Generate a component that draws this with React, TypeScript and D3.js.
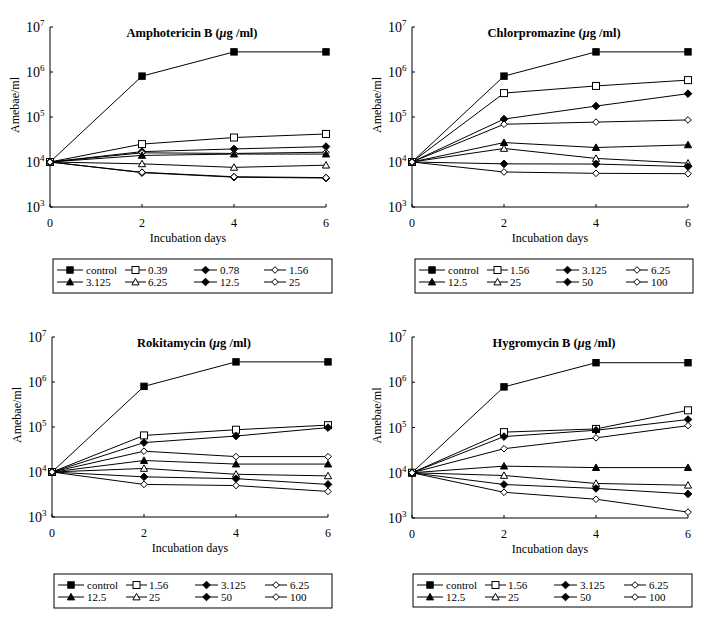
import React from "react";
import * as d3 from "d3";

const days = [0, 2, 4, 6];
const yTickExps = [3, 4, 5, 6, 7];

const ampTitle = "Amphotericin B";
const ampLabels = ["control", "0.39", "0.78", "1.56", "3.125", "6.25", "12.5", "25"];
const ampValues = [
  [1e4, 8.1e5, 2.8e6, 2.8e6],
  [1e4, 2.5e4, 3.5e4, 4.2e4],
  [1e4, 1.7e4, 1.95e4, 2.2e4],
  [1e4, 1.6e4, 1.55e4, 1.65e4],
  [1e4, 1.4e4, 1.5e4, 1.5e4],
  [1e4, 9.1e3, 7.6e3, 8.5e3],
  [1e4, 5.8e3, 4.6e3, 4.4e3],
  [1e4, 5.9e3, 4.7e3, 4.5e3],
];

const chlTitle = "Chlorpromazine";
const chlLabels = ["control", "1.56", "3.125", "6.25", "12.5", "25", "50", "100"];
const chlValues = [
  [1e4, 8.1e5, 2.8e6, 2.8e6],
  [1e4, 3.4e5, 4.9e5, 6.6e5],
  [1e4, 9.0e4, 1.75e5, 3.3e5],
  [1e4, 6.9e4, 7.7e4, 8.6e4],
  [1e4, 2.7e4, 2.1e4, 2.4e4],
  [1e4, 2.0e4, 1.2e4, 9.4e3],
  [1e4, 9.1e3, 9.0e3, 7.9e3],
  [1e4, 6.0e3, 5.6e3, 5.5e3],
];

const rokTitle = "Rokitamycin";
const rokLabels = ["control", "1.56", "3.125", "6.25", "12.5", "25", "50", "100"];
const rokValues = [
  [1e4, 8.0e5, 2.8e6, 2.8e6],
  [1e4, 6.5e4, 8.7e4, 1.1e5],
  [1e4, 4.5e4, 6.3e4, 9.7e4],
  [1e4, 2.9e4, 2.2e4, 2.2e4],
  [1e4, 1.8e4, 1.5e4, 1.5e4],
  [1e4, 1.2e4, 8.9e3, 8.2e3],
  [1e4, 7.8e3, 7.1e3, 5.3e3],
  [1e4, 5.3e3, 5.0e3, 3.7e3],
];

const hygTitle = "Hygromycin B";
const hygLabels = ["control", "1.56", "3.125", "6.25", "12.5", "25", "50", "100"];
const hygValues = [
  [1e4, 7.9e5, 2.7e6, 2.7e6],
  [1e4, 7.9e4, 9.3e4, 2.4e5],
  [1e4, 6.3e4, 8.7e4, 1.5e5],
  [1e4, 3.4e4, 5.9e4, 1.1e5],
  [1e4, 1.4e4, 1.3e4, 1.3e4],
  [1e4, 8.7e3, 5.8e3, 5.3e3],
  [1e4, 5.5e3, 4.5e3, 3.4e3],
  [1e4, 3.7e3, 2.6e3, 1.35e3],
];

const markerTypes = ["sqF", "sqO", "diaF", "diaO", "triF", "triO", "diaF", "diaO"];

const FONT = "Liberation Serif, Times New Roman, serif";

function Marker({ type, x, y }: { type: string; x: number; y: number }) {
  const filled = type.endsWith("F");
  const fill = filled ? "#000" : "#fff";
  if (type.startsWith("sq")) {
    const s = filled ? 3.2 : 3.5;
    return <rect x={x - s} y={y - s} width={2 * s} height={2 * s} fill={fill} stroke="#000" strokeWidth={1} />;
  }
  if (type.startsWith("dia")) {
    const s = filled ? 3.8 : 3.3;
    return (
      <path
        d={`M${x},${y - s}L${x + s},${y}L${x},${y + s}L${x - s},${y}Z`}
        fill={fill}
        stroke="#000"
        strokeWidth={1}
      />
    );
  }
  const s = 3.6;
  return (
    <path
      d={`M${x},${y - s}L${x + s},${y + s * 0.8}L${x - s},${y + s * 0.8}Z`}
      fill={fill}
      stroke="#000"
      strokeWidth={1}
    />
  );
}

type PanelProps = {
  title: string;
  labels: string[];
  values: number[][];
  left: number;
  right: number;
  top: number;
  bottom: number;
  legend: { x: number; y: number; w: number; h: number };
};

const legendColStart = [4, 72, 141, 211];
const legendColEnd = [30, 93, 164, 233];
const legendLabelX = [33, 95, 167, 236];

function Panel({ title, labels, values, left, right, top, bottom, legend }: PanelProps) {
  const x = d3.scaleLinear().domain([0, 6]).range([left, right]);
  const y = d3.scaleLog().domain([1e3, 1e7]).range([bottom, top]);
  const line = d3
    .line<number>()
    .x((_, i) => x(days[i]))
    .y((d) => y(d));
  const midY = (top + bottom) / 2;
  return (
    <g>
      <line x1={left} y1={top} x2={left} y2={bottom} stroke="#000" strokeWidth={1} />
      <line x1={left} y1={bottom} x2={right} y2={bottom} stroke="#000" strokeWidth={1} />
      {yTickExps.map((e) => {
        const ty = y(Math.pow(10, e));
        return (
          <g key={e}>
            <line x1={left} y1={ty} x2={left + 3} y2={ty} stroke="#000" />
            <text x={left - 24} y={ty + 5} fontSize={14} fontFamily={FONT} fill="#000">
              10
              <tspan dy={-6} fontSize={9}>
                {e}
              </tspan>
            </text>
          </g>
        );
      })}
      {days.map((d) => (
        <g key={d}>
          <line x1={x(d)} y1={bottom} x2={x(d)} y2={bottom - 3} stroke="#000" />
          <text x={x(d)} y={bottom + 20} fontSize={12} fontFamily={FONT} textAnchor="middle" fill="#000">
            {d}
          </text>
        </g>
      ))}
      <text
        x={(left + right) / 2}
        y={bottom + 35}
        fontSize={12}
        fontFamily={FONT}
        textAnchor="middle"
        fill="#000"
      >
        Incubation days
      </text>
      <text
        transform={`translate(${left - 31},${midY - 12}) rotate(-90)`}
        fontSize={12}
        fontFamily={FONT}
        textAnchor="middle"
        fill="#000"
      >
        Amebae/ml
      </text>
      <text
        x={(left + right) / 2 + 4}
        y={top + 10}
        fontSize={12.5}
        fontFamily={FONT}
        fontWeight="bold"
        textAnchor="middle"
        fill="#000"
      >
        {title} (<tspan fontStyle="italic">μ</tspan>g /ml)
      </text>
      {values.map((s, i) => (
        <path key={"l" + i} d={line(s) || ""} fill="none" stroke="#000" strokeWidth={1} />
      ))}
      {values.map((s, i) =>
        s.map((v, j) => <Marker key={"m" + i + "-" + j} type={markerTypes[i]} x={x(days[j])} y={y(v)} />)
      )}
      <rect x={legend.x} y={legend.y} width={legend.w} height={legend.h} fill="#fff" stroke="#000" strokeWidth={1} />
      {labels.map((lab, i) => {
        const col = i % 4;
        const row = Math.floor(i / 4);
        const ly = legend.y + 11 + row * 12;
        const x0 = legend.x + legendColStart[col];
        const x1 = legend.x + legendColEnd[col];
        return (
          <g key={"lg" + i}>
            <line x1={x0} y1={ly} x2={x1} y2={ly} stroke="#000" />
            <Marker type={markerTypes[i]} x={(x0 + x1) / 2} y={ly} />
            <text x={legend.x + legendLabelX[col]} y={ly + 4} fontSize={11} fontFamily={FONT} fill="#000">
              {lab}
            </text>
          </g>
        );
      })}
    </g>
  );
}

export default function App() {
  return (
    <div style={{ position: "absolute", left: 0, top: 0 }}>
      <svg width={711} height={619} style={{ display: "block", background: "#fff" }}>
        <rect x={0} y={0} width={711} height={619} fill="#fff" />
        <Panel
          title={ampTitle}
          labels={ampLabels}
          values={ampValues}
          left={50}
          right={326}
          top={27}
          bottom={207}
          legend={{ x: 53, y: 259, w: 279, h: 34 }}
        />
        <Panel
          title={chlTitle}
          labels={chlLabels}
          values={chlValues}
          left={412}
          right={688}
          top={27}
          bottom={207}
          legend={{ x: 415, y: 259, w: 278, h: 34 }}
        />
        <Panel
          title={rokTitle}
          labels={rokLabels}
          values={rokValues}
          left={52}
          right={328}
          top={337}
          bottom={517}
          legend={{ x: 54, y: 574, w: 278, h: 34 }}
        />
        <Panel
          title={hygTitle}
          labels={hygLabels}
          values={hygValues}
          left={412}
          right={688}
          top={337}
          bottom={518}
          legend={{ x: 413, y: 574, w: 279, h: 33 }}
        />
      </svg>
    </div>
  );
}
